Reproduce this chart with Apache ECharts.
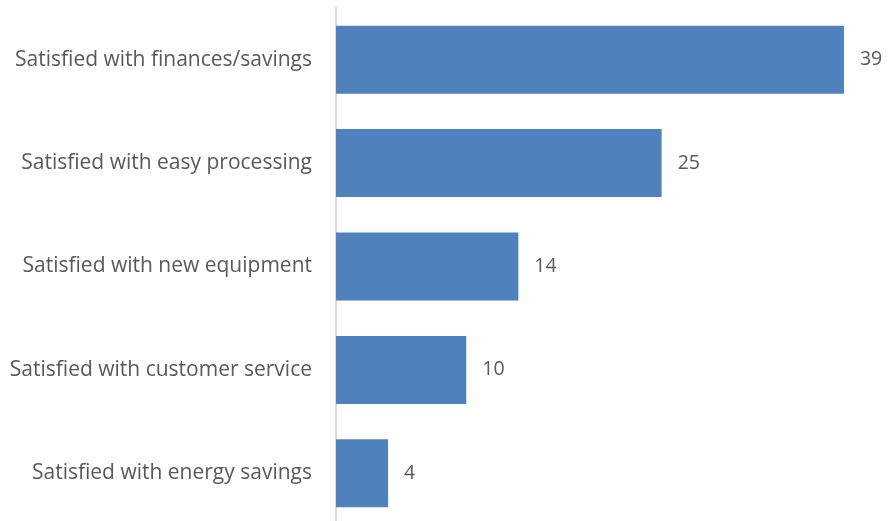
<!DOCTYPE html>
<html>
<head>
<meta charset="utf-8">
<script src="https://cdn.jsdelivr.net/npm/echarts@6/dist/echarts.min.js"></script>
<style>
  html, body { margin: 0; padding: 0; background: #ffffff; }
  #chart { width: 888px; height: 521px; }
</style>
</head>
<body>
<div id="chart"></div>
<script>
// Reasons for satisfaction, top to bottom
const categories = [
  'Satisfied with finances/savings',
  'Satisfied with easy processing',
  'Satisfied with new equipment',
  'Satisfied with customer service',
  'Satisfied with energy savings'
];
const counts = [39, 25, 14, 10, 4];

const chart = echarts.init(document.getElementById('chart'), null, { renderer: 'canvas' });
const textColor = '#595959';
const fontFamily = '"Open Sans", sans-serif';

chart.setOption({
  animation: false,
  grid: {
    left: 336, top: 8, width: 521, height: 517,
    containLabel: false,
    outerBoundsMode: 'none'
  },
  xAxis: {
    type: 'value',
    min: 0,
    max: 40,
    show: false
  },
  yAxis: {
    type: 'category',
    data: categories,
    inverse: true,
    axisLine: { show: true, lineStyle: { color: '#d9d9d9', width: 2 } },
    axisTick: { show: false },
    axisLabel: {
      color: textColor,
      fontFamily: fontFamily,
      fontSize: 21,
      margin: 24
    }
  },
  series: [{
    type: 'bar',
    data: counts,
    barWidth: '65.8%',
    itemStyle: { color: '#4f81bd' },
    label: {
      show: true,
      position: 'right',
      distance: 16,
      color: textColor,
      fontFamily: fontFamily,
      fontSize: 19.5
    }
  }]
});
</script>
</body>
</html>
